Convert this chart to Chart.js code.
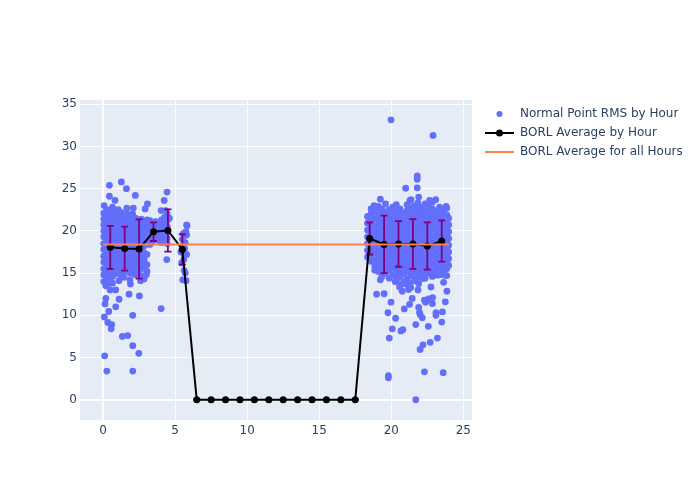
<!DOCTYPE html>
<html>
<head>
<meta charset="utf-8">
<script src="https://cdn.jsdelivr.net/npm/chart.js@4.4.1/dist/chart.umd.min.js"></script>
<style>
  html, body { margin: 0; padding: 0; background: #fff; }
  #wrap { width: 700px; height: 500px; }
</style>
</head>
<body>
<div id="wrap"><canvas id="chart" width="700" height="500"></canvas></div>
<script>
// hourly BORL averages and their spread
const hours = [0.5, 1.5, 2.5, 3.5, 4.5, 5.5, 6.5, 7.5, 8.5, 9.5, 10.5, 11.5,
               12.5, 13.5, 14.5, 15.5, 16.5, 17.5, 18.5, 19.5, 20.5, 21.5, 22.5, 23.5]
const borlAverage = [18.05, 17.9, 17.85, 19.9, 20.05, 17.8, 0, 0, 0, 0, 0, 0,
                     0, 0, 0, 0, 0, 0, 19.1, 18.4, 18.45, 18.45, 18.2, 18.8]
const borlStd = [2.55, 2.6, 3.5, 1.1, 2.5, 1.8, 0, 0, 0, 0, 0, 0,
                 0, 0, 0, 0, 0, 0, 1.9, 3.4, 2.7, 2.95, 2.8, 2.45]
const overallAverage = 18.4
const overallSpan = [0, 24]

const xTicks = [0, 5, 10, 15, 20, 25]
const yTicks = [0, 5, 10, 15, 20, 25, 30, 35]

// normal point RMS, dense part, as [hour, [rms values]]
const earlyColumns = [
  [0.05, [14.0, 14.8, 15.5, 16.3, 17.0, 17.8, 18.5, 19.3, 20.0, 20.7, 21.4, 22.1]],
  [0.25, [13.6, 14.4, 15.2, 15.9, 16.7, 17.4, 18.2, 18.9, 19.6, 20.4, 21.1, 21.8, 22.5]],
  [0.45, [14.2, 15.0, 15.7, 16.5, 17.2, 18.0, 18.7, 19.5, 20.2, 20.9, 21.6, 22.3]],
  [0.65, [13.8, 14.6, 15.4, 16.1, 16.9, 17.6, 18.4, 19.1, 19.8, 20.6, 21.3, 22.0, 22.8]],
  [0.85, [14.9, 15.6, 16.4, 17.1, 17.9, 18.6, 19.3, 20.1, 20.8, 21.5, 22.2]],
  [1.05, [15.3, 16.0, 16.8, 17.5, 18.3, 19.0, 19.7, 20.5, 21.2, 21.9, 22.5]],
  [1.25, [14.8, 15.6, 16.3, 17.1, 17.8, 18.6, 19.3, 20.0, 20.8, 21.5, 22.2]],
  [1.45, [15.2, 15.9, 16.7, 17.4, 18.2, 18.9, 19.6, 20.4, 21.1, 21.8]],
  [1.65, [15.6, 16.3, 17.1, 17.8, 18.6, 19.3, 20.0, 20.7, 21.4, 22.1, 22.7]],
  [1.85, [15.0, 15.8, 16.5, 17.3, 18.0, 18.8, 19.5, 20.2, 20.9, 21.6]],
  [2.05, [15.5, 16.2, 17.0, 17.7, 18.5, 19.2, 19.9, 20.6, 21.3, 22.0]],
  [2.25, [14.8, 15.6, 16.4, 17.2, 18.0, 18.7, 19.4, 20.1, 20.8, 21.5]],
  [2.45, [15.3, 16.0, 16.8, 17.5, 18.3, 19.0, 19.8, 20.5, 21.2]],
  [2.65, [14.7, 15.5, 16.3, 17.0, 17.8, 18.5, 19.3, 20.0, 20.7, 21.4]],
  [2.85, [14.3, 15.8, 16.6, 17.4, 18.2, 18.9, 19.6, 20.4, 21.1]],
  [3.05, [15.2, 16.0, 17.2, 18.5, 19.2, 19.9, 20.6, 21.3]],
  [3.25, [18.4, 19.1, 19.8, 20.5, 21.2]],
  [3.45, [18.8, 19.5, 20.2, 20.9]],
  [3.65, [19.0, 19.7, 20.4, 21.1]],
  [3.85, [18.9, 19.6, 20.3, 21.0]],
  [4.05, [18.6, 19.2, 19.9, 20.6, 21.3]],
  [4.25, [18.8, 19.5, 20.2, 20.9, 21.6]],
  [4.45, [18.5, 19.1, 19.8, 20.5, 21.2, 22.0]]
]

const earlyExtra = [
  [0.44, 25.4], [1.27, 25.8], [1.62, 25.0], [0.44, 24.1], [0.83, 23.6], [2.24, 24.2],
  [4.44, 24.6], [4.24, 23.6], [0.07, 23.0], [3.08, 23.2], [2.92, 22.6], [2.1, 22.7],
  [4.03, 22.4], [4.35, 22.4], [4.6, 21.5], [4.42, 16.6], [4.03, 10.8], [2.06, 10.0],
  [2.52, 12.3], [1.8, 12.5], [1.11, 11.9], [0.88, 11.0], [0.19, 12.0], [0.14, 11.35],
  [0.4, 10.45], [0.09, 9.8], [0.33, 9.15], [0.6, 8.9], [0.56, 8.4], [1.34, 7.5],
  [1.71, 7.6], [2.06, 6.4], [2.48, 5.5], [0.11, 5.2], [0.26, 3.4], [2.06, 3.4],
  [1.9, 13.7], [1.87, 14.2], [1.1, 14.1], [0.88, 13.0], [0.49, 13.0], [0.19, 13.5],
  [0.26, 14.4], [2.1, 14.95], [3.0, 14.8], [1.45, 14.5], [2.6, 14.1],
  [5.83, 20.6], [5.8, 20.7], [5.58, 19.7], [5.8, 19.5], [5.5, 19.0], [5.7, 18.6],
  [5.66, 17.9], [5.4, 17.5], [5.8, 17.2], [5.6, 16.6], [5.7, 15.0], [5.53, 14.2],
  [5.76, 14.1], [5.63, 15.3], [5.45, 16.2], [5.75, 19.9], [5.55, 18.2]
]

const lateColumns = [
  [18.35, [16.9, 17.7, 18.5, 19.3, 20.1, 20.9, 21.7]],
  [18.6, [16.4, 17.2, 18.0, 18.8, 19.6, 20.4, 21.2, 22.0, 22.6]],
  [18.85, [15.8, 16.6, 17.4, 18.2, 19.0, 19.8, 20.6, 21.4, 22.2]],
  [19.1, [15.2, 16.0, 16.8, 17.6, 18.4, 19.2, 20.0, 20.8, 21.6, 22.4, 22.9]],
  [19.35, [14.6, 15.5, 16.3, 17.1, 17.9, 18.7, 19.5, 20.3, 21.1, 21.9, 22.6]],
  [19.6, [15.0, 15.8, 16.6, 17.4, 18.2, 19.0, 19.8, 20.6, 21.4, 22.2, 23.2]],
  [19.85, [14.4, 15.3, 16.1, 16.9, 17.7, 18.5, 19.3, 20.1, 20.9, 21.7, 22.5]],
  [20.1, [14.8, 15.6, 16.4, 17.2, 18.0, 18.8, 19.6, 20.4, 21.2, 22.0, 22.8]],
  [20.35, [14.2, 15.1, 15.9, 16.7, 17.5, 18.3, 19.1, 19.9, 20.7, 21.5, 22.3, 23.1]],
  [20.6, [13.6, 14.6, 15.4, 16.2, 17.0, 17.8, 18.6, 19.4, 20.2, 21.0, 21.8, 22.6]],
  [20.85, [14.0, 14.9, 15.7, 16.5, 17.3, 18.1, 18.9, 19.7, 20.5, 21.3, 22.1]],
  [21.1, [14.3, 15.2, 16.0, 16.8, 17.6, 18.4, 19.2, 20.0, 20.8, 21.6, 22.4, 23.1]],
  [21.35, [13.3, 14.7, 15.5, 16.3, 17.1, 17.9, 18.7, 19.5, 20.3, 21.1, 21.9, 22.7]],
  [21.6, [14.1, 15.0, 15.8, 16.6, 17.4, 18.2, 19.0, 19.8, 20.6, 21.4, 22.2, 23.0]],
  [21.85, [13.0, 14.5, 15.3, 16.1, 16.9, 17.7, 18.5, 19.3, 20.1, 20.9, 21.7, 22.5, 23.3]],
  [22.1, [14.9, 15.6, 16.4, 17.2, 18.0, 18.8, 19.6, 20.4, 21.2, 22.0, 22.8]],
  [22.35, [14.4, 15.2, 16.0, 16.8, 17.6, 18.4, 19.2, 20.0, 20.8, 21.6, 22.4, 23.2]],
  [22.6, [15.0, 15.8, 16.6, 17.4, 18.2, 19.0, 19.8, 20.6, 21.4, 22.2, 23.0]],
  [22.85, [14.6, 15.4, 16.2, 17.0, 17.8, 18.6, 19.4, 20.2, 21.0, 21.8, 22.6, 23.4]],
  [23.1, [15.1, 15.9, 16.7, 17.5, 18.3, 19.1, 19.9, 20.7, 21.5, 22.3]],
  [23.35, [14.8, 15.6, 16.4, 17.2, 18.0, 18.8, 19.6, 20.4, 21.2, 22.0, 22.8]],
  [23.6, [15.3, 16.1, 16.9, 17.7, 18.5, 19.3, 20.1, 20.9, 21.7, 22.5]],
  [23.85, [14.7, 15.5, 16.3, 17.1, 17.9, 18.7, 19.5, 20.3, 21.1, 21.9, 22.7]],
  [23.98, [15.9, 16.7, 17.5, 18.3, 19.1, 19.9, 20.7, 21.5]]
]

const lateExtra = [
  [19.98, 33.15], [22.9, 31.3], [21.8, 26.5], [21.8, 26.1], [21.8, 25.1], [21.0, 25.05],
  [21.37, 23.7], [21.9, 24.0], [23.08, 23.7], [19.24, 23.75], [18.8, 23.0], [21.3, 23.6],
  [22.66, 23.6], [23.8, 22.9],
  [18.85, 15.35], [19.24, 14.2], [19.5, 12.55], [18.98, 12.5], [19.98, 11.55], [19.77, 10.3],
  [20.07, 8.4], [19.86, 7.3], [19.8, 2.85], [19.8, 2.6], [22.3, 3.3], [23.6, 3.2], [21.7, 0.0],
  [20.3, 9.65], [20.67, 8.15], [20.8, 8.3], [21.7, 8.9], [22.0, 5.95], [22.2, 6.5], [22.7, 6.8],
  [23.2, 7.3], [22.57, 8.7], [23.5, 9.2], [23.55, 10.4], [23.1, 10.3], [23.1, 10.0],
  [23.75, 11.6], [23.86, 12.85], [23.63, 13.9], [20.9, 10.75], [21.27, 11.3], [21.9, 10.95],
  [21.96, 10.35], [22.15, 9.7], [22.0, 10.1], [22.38, 11.55], [22.6, 11.95], [22.87, 12.1],
  [22.85, 11.4], [22.3, 11.8], [21.45, 12.0], [20.76, 12.85], [20.58, 13.35], [20.26, 14.0],
  [20.4, 14.4], [21.0, 13.7], [21.2, 13.05], [21.3, 13.8], [21.5, 14.75], [21.9, 13.75],
  [22.2, 14.35], [22.75, 13.35], [23.17, 14.75], [23.7, 14.75]
]

const font = { family: "'DejaVu Sans', sans-serif", size: 12 }
const textColor = '#2a3f5f'
const dotColor = '#636efa'
const orange = '#ff7f50'
const barColor = '#800080'

const columnsToPoints = cols => cols.flatMap(([h, vals]) => vals.map(v => ({ x: h, y: v })))
const rmsPoints = [
  ...columnsToPoints(earlyColumns),
  ...earlyExtra.map(([h, v]) => ({ x: h, y: v })),
  ...columnsToPoints(lateColumns),
  ...lateExtra.map(([h, v]) => ({ x: h, y: v }))
]

// plot background
const plotBackground = {
  id: 'plotBackground',
  beforeDraw(chart) {
    const { ctx, chartArea: a } = chart
    ctx.save()
    ctx.fillStyle = '#e5ecf6'
    ctx.fillRect(a.left, a.top, a.right - a.left, a.bottom - a.top)
    ctx.restore()
  }
}

// vertical error bars under the hourly average line
const errorBars = {
  id: 'errorBars',
  beforeDatasetDraw(chart, args) {
    if (args.index !== 1) return
    const { ctx, scales: { x, y } } = chart
    ctx.save()
    ctx.strokeStyle = barColor
    ctx.lineWidth = 1.8
    hours.forEach((h, i) => {
      const px = x.getPixelForValue(h)
      const top = y.getPixelForValue(borlAverage[i] + borlStd[i])
      const bot = y.getPixelForValue(borlAverage[i] - borlStd[i])
      ctx.beginPath()
      ctx.moveTo(px, top); ctx.lineTo(px, bot)
      ctx.moveTo(px - 3.5, top); ctx.lineTo(px + 3.5, top)
      ctx.moveTo(px - 3.5, bot); ctx.lineTo(px + 3.5, bot)
      ctx.stroke()
    })
    ctx.restore()
  }
}

// plotly-like legend on the right
const sideLegend = {
  id: 'sideLegend',
  afterDraw(chart) {
    const { ctx } = chart
    const ds = chart.data.datasets
    const x0 = 485, x1 = 514, tx = 520
    const rows = [114, 133, 152]
    ctx.save()
    ctx.font = `${font.size}px ${font.family}`
    ctx.fillStyle = textColor
    ctx.textBaseline = 'middle'
    rows.forEach((ry, i) => ctx.fillText(ds[i].label, tx, ry))

    ctx.fillStyle = dotColor
    ctx.beginPath(); ctx.arc(499.5, rows[0], 3, 0, Math.PI * 2); ctx.fill()

    ctx.strokeStyle = '#000'
    ctx.lineWidth = 2
    ctx.beginPath(); ctx.moveTo(x0, rows[1]); ctx.lineTo(x1, rows[1]); ctx.stroke()
    ctx.fillStyle = '#000'
    ctx.beginPath(); ctx.arc(499.5, rows[1], 3.5, 0, Math.PI * 2); ctx.fill()

    ctx.strokeStyle = orange
    ctx.beginPath(); ctx.moveTo(x0, rows[2]); ctx.lineTo(x1, rows[2]); ctx.stroke()
    ctx.restore()
  }
}

const gridWidth = c => (c.tick && c.tick.value === 0 ? 2 : 1)

new Chart(document.getElementById('chart'), {
  type: 'scatter',
  data: {
    datasets: [
      {
        label: 'Normal Point RMS by Hour',
        data: rmsPoints,
        backgroundColor: dotColor,
        borderWidth: 0,
        pointRadius: 3.4,
        order: 3
      },
      {
        label: 'BORL Average by Hour',
        type: 'line',
        data: hours.map((h, i) => ({ x: h, y: borlAverage[i] })),
        borderColor: '#000',
        borderWidth: 2,
        backgroundColor: '#000',
        pointRadius: 3.5,
        pointBorderWidth: 0,
        tension: 0,
        order: 2
      },
      {
        label: 'BORL Average for all Hours',
        type: 'line',
        data: overallSpan.map(h => ({ x: h, y: overallAverage })),
        borderColor: orange,
        borderWidth: 2,
        pointRadius: 0,
        order: 1
      }
    ]
  },
  options: {
    responsive: false,
    animation: false,
    layout: { padding: { top: 100, right: 228, left: 0, bottom: 0 } },
    plugins: {
      legend: { display: false },
      tooltip: { enabled: false }
    },
    scales: {
      x: {
        type: 'linear',
        min: -1.6,
        max: 25.6,
        afterBuildTicks: s => { s.ticks = xTicks.map(v => ({ value: v })) },
        afterFit: s => { s.height = 80 },
        grid: { color: '#fff', lineWidth: gridWidth, drawTicks: false },
        border: { display: false },
        ticks: { color: textColor, font, padding: 4 }
      },
      y: {
        type: 'linear',
        min: -2.4,
        max: 35.5,
        afterBuildTicks: s => { s.ticks = yTicks.map(v => ({ value: v })) },
        afterFit: s => { s.width = 80 },
        grid: { color: '#fff', lineWidth: gridWidth, drawTicks: false },
        border: { display: false },
        ticks: { color: textColor, font, padding: 3 }
      }
    }
  },
  plugins: [plotBackground, errorBars, sideLegend]
})
</script>
</body>
</html>
